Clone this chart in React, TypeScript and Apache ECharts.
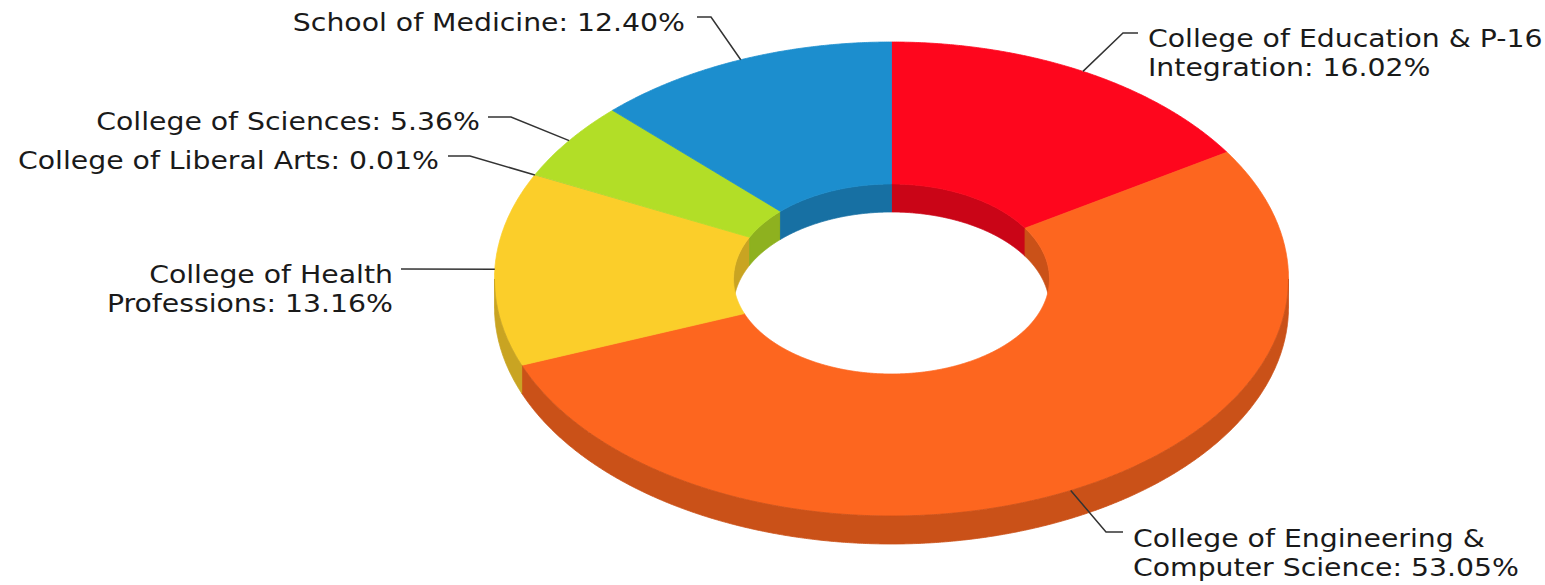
import React, { useEffect, useRef } from "react";
import * as echarts from "echarts";

// ---- data ----
const categories = [
  "College of Education & P-16\nIntegration",
  "College of Engineering &\nComputer Science",
  "College of Health\nProfessions",
  "College of Liberal Arts",
  "College of Sciences",
  "School of Medicine",
];
const shares = [16.02, 53.05, 13.16, 0.01, 5.36, 12.4];
const topColors = ["#FE061D", "#FD661F", "#FBCE2A", "#9B59B6", "#B2DE27", "#1C8ECE"];
const sideColors = ["#CA0517", "#CA5118", "#C9A422", "#7A4690", "#8EB11F", "#1770A3"];

// ---- geometry (layout only) ----
const CX = 891.5;
const CY = 279;
const RX = 397;
const RY = 237;
const RXI = 158;
const RYI = 95;
const H = 28;
const FONT = "DejaVu Sans";
const FONT_SIZE = 24;
const SCALE_X = 1.18;

type LL = { elbow: number[] | null; end: number[]; text: number[]; align: string };
const labelLayout: LL[] = [
  { elbow: [1123, 33], end: [1138, 33], text: [1148, 24], align: "left" },
  { elbow: [1106, 532], end: [1123, 532], text: [1133, 524], align: "left" },
  { elbow: null, end: [401, 269], text: [393, 260], align: "right" },
  { elbow: [470, 156], end: [448, 156], text: [439, 146], align: "right" },
  { elbow: [511, 117], end: [488, 117], text: [480, 107], align: "right" },
  { elbow: [711, 17], end: [697, 17], text: [685, 8], align: "right" },
];

const total = shares.reduce((a, b) => a + b, 0);
const startAngles: number[] = [];
{
  let acc = 0;
  for (const v of shares) {
    startAngles.push((acc / total) * Math.PI * 2);
    acc += v;
  }
}
const sliceRange = (i: number) => [startAngles[i], startAngles[i] + (shares[i] / total) * Math.PI * 2];

const pt = (rx: number, ry: number, t: number, dy = 0) => [CX + rx * Math.sin(t), CY - ry * Math.cos(t) + dy];
const arc = (rx: number, ry: number, a: number, b: number, dy = 0) => {
  const n = Math.max(2, Math.ceil(Math.abs(b - a) / 0.005));
  const out: number[][] = [];
  for (let k = 0; k <= n; k++) out.push(pt(rx, ry, a + ((b - a) * k) / n, dy));
  return out;
};
const intersect = (a: number, b: number, lo: number, hi: number) => {
  const s = Math.max(a, lo);
  const e = Math.min(b, hi);
  return e > s ? [s, e] : null;
};
const strokeW = (i: number) => (shares[i] / total < 0.001 ? 0 : 0.8);

const wallPoly = (rx: number, ry: number, s: number, e: number, i: number) => ({
  type: "polygon",
  shape: { points: [...arc(rx, ry, s, e), ...arc(rx, ry, e, s, H)] },
  style: { fill: sideColors[i], stroke: sideColors[i], lineWidth: strokeW(i) },
});

export default function App() {
  const ref = useRef<HTMLDivElement>(null);
  useEffect(() => {
    document.body.style.margin = "0";
    const chart = echarts.init(ref.current!, null, { renderer: "svg" });
    const data = shares.map((v, i) => ({ value: v, name: categories[i] }));

    const innerWalls = (params: any) => {
      const i = params.dataIndex;
      const [a, b] = sliceRange(i);
      const children: any[] = [];
      const ranges = [intersect(a, b, 0, Math.PI / 2), intersect(a, b, Math.PI * 1.5, Math.PI * 2)];
      ranges.forEach((r) => r && children.push(wallPoly(RXI, RYI, r[0], r[1], i)));
      return { type: "group", children };
    };
    const outerWalls = (params: any) => {
      const i = params.dataIndex;
      const [a, b] = sliceRange(i);
      const children: any[] = [];
      const r = intersect(a, b, Math.PI / 2, Math.PI * 1.5);
      if (r) children.push(wallPoly(RX, RY, r[0], r[1], i));
      return { type: "group", children };
    };
    const tops = (params: any) => {
      const i = params.dataIndex;
      const [a, b] = sliceRange(i);
      return {
        type: "polygon",
        shape: { points: [...arc(RX, RY, a, b), ...arc(RXI, RYI, b, a)] },
        style: { fill: topColors[i], stroke: topColors[i], lineWidth: strokeW(i) },
      };
    };
    const labels = (params: any) => {
      const i = params.dataIndex;
      const [a, b] = sliceRange(i);
      const anchor = pt(RX, RY, (a + b) / 2);
      const L = labelLayout[i];
      const pts = [anchor];
      if (L.elbow) pts.push(L.elbow);
      pts.push(L.end);
      const text = `${categories[i]}: ${shares[i].toFixed(2)}%`;
      return {
        type: "group",
        children: [
          {
            type: "polyline",
            shape: { points: pts },
            style: { stroke: "#333", lineWidth: 1.5, fill: null },
          },
          {
            type: "text",
            x: L.text[0],
            y: L.text[1],
            scaleX: SCALE_X,
            style: {
              text,
              x: 0,
              y: 0,
              fill: "#1a1a1a",
              fontFamily: FONT,
              fontSize: FONT_SIZE,
              lineHeight: 29,
              align: L.align,
              textAlign: L.align,
              verticalAlign: "top",
              textVerticalAlign: "top",
            },
          },
        ],
      };
    };

    const mk = (renderItem: any, z: number) => ({
      type: "custom",
      coordinateSystem: "none",
      silent: true,
      z,
      data,
      renderItem,
    });

    chart.setOption({
      animation: false,
      backgroundColor: "#ffffff",
      series: [mk(innerWalls, 1), mk(tops, 2), mk(outerWalls, 3), mk(labels, 4)],
    });
    return () => chart.dispose();
  }, []);
  return <div ref={ref} style={{ width: 1545, height: 585 }} />;
}
